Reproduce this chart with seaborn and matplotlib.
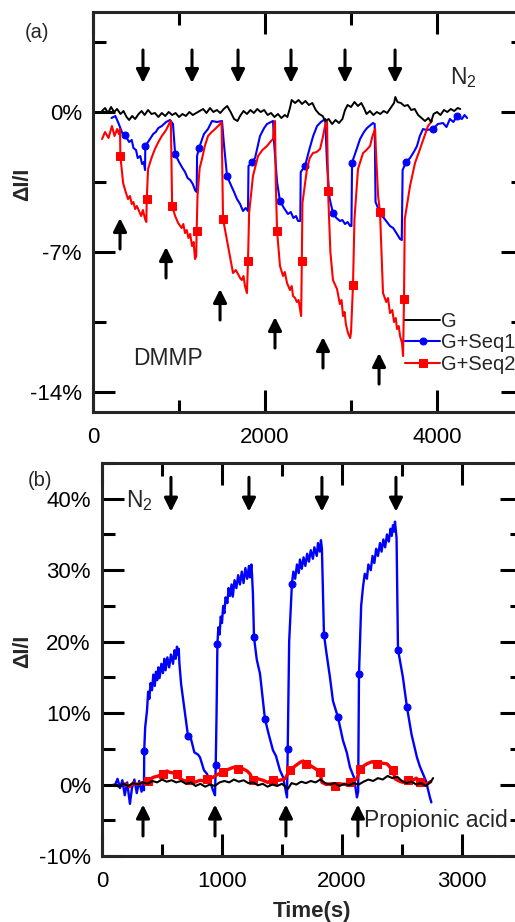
import matplotlib
matplotlib.use("Agg")
import matplotlib.pyplot as plt
from matplotlib.ticker import MultipleLocator, FuncFormatter
import seaborn as sns

# ---------------- panel (a): DMMP ----------------
t_g_a = [105, 140, 175, 210, 245, 280, 320, 355, 390, 420, 455, 490, 530, 565, 600, 640, 680, 720,
         760, 800, 840, 880, 920, 960, 1000, 1040, 1080, 1120, 1160, 1200, 1240, 1280, 1320, 1360,
         1400, 1440, 1480, 1520, 1560, 1600, 1640, 1680, 1710, 1750, 1790, 1830, 1870, 1910, 1950,
         1990, 2030, 2070, 2110, 2150, 2190, 2230, 2260, 2290, 2310, 2350, 2390, 2430, 2470, 2510,
         2550, 2590, 2630, 2670, 2700, 2740, 2780, 2820, 2860, 2900, 2930, 2960, 3000, 3040, 3080,
         3120, 3150, 3180, 3220, 3260, 3300, 3340, 3380, 3420, 3460, 3500, 3515, 3540, 3580, 3620,
         3660, 3700, 3740, 3780, 3820, 3860, 3900, 3930, 3960, 4000, 4040, 4080, 4120, 4160, 4200,
         4240, 4270]
v_g_a = [0.05, 0.2, -0.05, 0.25, 0.0, 0.15, -0.1, 0.05, -0.25, -0.4, -0.2, -0.35, -0.1, 0.05, -0.15,
         0.1, -0.1, -0.05, -0.25, -0.05, -0.2, 0.0, -0.15, -0.05, -0.25, -0.1, -0.2, 0.0, -0.15,
         -0.05, 0.05, 0.15, -0.05, 0.2, 0.0, 0.1, -0.05, 0.15, 0.3, 0.0, -0.35, -0.45, -0.2, 0.05,
         -0.1, 0.1, -0.05, 0.15, 0.0, 0.1, -0.15, -0.05, -0.25, -0.1, -0.3, -0.15, -0.25, 0.2, 0.6,
         0.45, 0.6, 0.4, 0.55, 0.35, 0.45, 0.1, -0.1, -0.2, -0.45, -0.35, -0.6, -0.4, -0.55, -0.35,
         0.1, 0.35, 0.25, 0.5, 0.3, 0.45, 0.2, -0.1, 0.05, -0.15, 0.0, -0.1, 0.05, -0.05, 0.2, 0.45,
         0.75, 0.5, 0.45, 0.3, 0.35, 0.1, 0.15, -0.15, -0.3, -0.45, -0.3, -0.5, -0.1, 0.0, -0.15,
         0.1, 0.0, 0.15, 0.05, 0.2, 0.15]

t_s1_a = [215, 260, 300, 340, 372, 420, 450, 470, 500, 520, 550, 570, 590, 605, 608, 640, 670, 700,
          730, 760, 800, 850, 895, 930, 955, 1000, 1040, 1070, 1100, 1130, 1160, 1186, 1205, 1210,
          1233, 1290, 1337, 1384, 1440, 1500, 1520, 1558, 1593, 1640, 1674, 1710, 1744, 1775, 1802,
          1808, 1850, 1884, 1942, 1990, 2023, 2093, 2105, 2140, 2174, 2220, 2267, 2300, 2330, 2360,
          2384, 2410, 2415, 2465, 2520, 2560, 2605, 2650, 2700, 2720, 2750, 2790, 2830, 2872, 2900,
          2930, 2960, 2990, 3005, 3012, 3030, 3070, 3105, 3150, 3186, 3256, 3275, 3285, 3337, 3400,
          3453, 3490, 3520, 3570, 3590, 3600, 3640, 3686, 3730, 3767, 3800, 3837, 3880, 3953, 4010,
          4070, 4110, 4150, 4190, 4233, 4290, 4320, 4350]
v_s1_a = [-0.3, -0.2, -0.6, -1.05, -1.15, -1.5, -1.4, -1.8, -1.9, -2.3, -2.2, -2.6, -2.5, -2.9, -1.7,
          -1.5, -1.3, -1.1, -1.0, -0.8, -0.7, -0.5, -0.4, -0.6, -2.1, -2.5, -2.8, -3.0, -3.3, -3.4,
          -3.6, -3.9, -4.0, -2.2, -1.8, -1.1, -0.85, -0.45, -0.5, -0.45, -1.5, -3.2, -3.55, -4.0,
          -4.35, -4.6, -4.95, -4.8, -4.95, -2.7, -2.5, -2.3, -1.2, -0.8, -0.6, -0.45, -1.5, -3.5,
          -4.45, -4.8, -5.1, -5.0, -5.3, -5.2, -5.45, -5.45, -3.0, -2.7, -1.8, -1.2, -0.7, -0.5,
          -0.35, -2.5, -4.3, -5.05, -5.3, -5.45, -5.4, -5.6, -5.5, -5.7, -5.7, -2.55, -2.3, -1.8,
          -1.35, -1.0, -0.8, -0.55, -0.6, -4.5, -5.05, -5.4, -5.7, -5.8, -6.0, -6.35, -6.4, -2.9,
          -2.5, -2.3, -2.0, -1.7, -1.2, -0.85, -0.9, -0.85, -0.6, -0.55, -0.75, -0.35, -0.5, -0.2,
          -0.35, -0.15, -0.3]
mk_s1_a = [372, 608, 955, 1233, 1558, 1850, 2174, 2465, 2790, 3012, 3337, 3640, 3953, 4233]

t_s2_a = [105, 140, 180, 220, 250, 280, 300, 314, 318, 350, 380, 407, 430, 450, 470, 490, 510, 530,
          560, 580, 605, 620, 625, 640, 680, 720, 760, 800, 850, 895, 905, 920, 955, 990, 1030,
          1050, 1070, 1090, 1110, 1130, 1151, 1170, 1186, 1200, 1205, 1215, 1240, 1267, 1300, 1337,
          1380, 1419, 1477, 1495, 1512, 1540, 1570, 1600, 1628, 1660, 1686, 1710, 1730, 1750, 1767,
          1790, 1802, 1815, 1860, 1919, 1970, 2023, 2060, 2093, 2110, 2116, 2125, 2140, 2174, 2210,
          2230, 2256, 2290, 2310, 2326, 2350, 2370, 2390, 2407, 2420, 2428, 2435, 2488, 2520, 2558,
          2600, 2640, 2670, 2698, 2721, 2733, 2760, 2790, 2837, 2870, 2890, 2907, 2925, 2940, 2965,
          2990, 3000, 3023, 3040, 3081, 3140, 3180, 3221, 3250, 3280, 3290, 3315, 3337, 3372, 3410,
          3430, 3453, 3480, 3500, 3520, 3535, 3555, 3570, 3593, 3605, 3616, 3625, 3686, 3744, 3790,
          3826, 3870, 3895, 3942]
v_s2_a = [-1.35, -1.0, -1.3, -0.7, -1.2, -0.85, -1.1, -0.85, -2.2, -3.55, -4.0, -4.35, -4.2, -4.6,
          -4.5, -4.85, -4.7, -4.9, -5.2, -4.9, -5.35, -5.5, -4.35, -2.85, -2.3, -1.85, -1.5, -1.2,
          -0.9, -0.5, -0.45, -4.7, -5.2, -5.55, -5.8, -5.6, -6.05, -5.9, -6.3, -6.1, -6.7, -6.5,
          -7.35, -7.2, -5.95, -4.2, -2.8, -2.35, -1.7, -1.2, -1.0, -0.85, -0.6, -0.5, -5.35, -6.0,
          -6.7, -7.4, -8.05, -7.9, -8.1, -8.3, -8.4, -8.2, -8.7, -9.05, -7.45, -5.05, -3.2, -2.2,
          -1.9, -1.7, -1.5, -1.35, -0.5, -0.45, -3.5, -5.95, -7.7, -8.2, -8.0, -8.55, -8.9, -8.7,
          -9.2, -9.3, -9.5, -9.4, -9.85, -10.2, -7.45, -4.55, -2.85, -2.3, -2.05, -2.0, -1.85,
          -1.3, -0.7, -0.45, -3.95, -7.0, -8.4, -8.85, -9.6, -9.4, -10.2, -10.0, -10.6, -11.05,
          -11.3, -11.0, -8.65, -5.35, -2.85, -2.05, -1.9, -1.7, -1.2, -0.85, -2.0, -4.2, -5.0, -9.05,
          -9.5, -9.3, -10.05, -9.9, -10.5, -10.3, -10.85, -10.7, -11.2, -11.55, -12.2, -9.35, -5.35,
          -3.7, -2.55, -2.0, -1.55, -1.0, -0.7, -0.45]
mk_s2_a = [318, 625, 920, 1205, 1512, 1802, 2140, 2428, 2733, 3023, 3337, 3616]

# arrows (a): N2 / DMMP switching times
dn_t_a = [581, 1151, 1686, 2302, 2930, 3512]
up_t_a = [314, 849, 1477, 2116, 2674, 3326]
up_tail_a = [-6.85, -8.3, -10.4, -11.8, -12.8, -13.6]

# ---------------- panel (b): propionic acid ----------------
t_g_b = [95, 140, 180, 220, 260, 300, 340, 380, 420, 460, 500, 540, 580, 620, 660, 700, 740, 780,
         820, 860, 900, 940, 980, 1020, 1060, 1100, 1140, 1180, 1220, 1260, 1300, 1340, 1380, 1420,
         1460, 1500, 1530, 1550, 1580, 1620, 1660, 1700, 1740, 1780, 1820, 1860, 1900, 1940, 1980,
         2020, 2060, 2100, 2140, 2180, 2220, 2260, 2300, 2340, 2380, 2420, 2460, 2500, 2540, 2580,
         2620, 2660, 2700, 2740, 2760]
v_g_b = [0.0, -0.3, 0.1, -0.2, 0.2, 0.0, 0.3, 0.1, 0.5, 0.3, 0.7, 0.4, 0.6, 0.3, 0.5, 0.1, 0.3,
         -0.2, 0.1, -0.3, 0.0, -0.2, 0.3, 0.5, 0.3, 0.7, 0.4, 0.6, 0.2, 0.3, -0.1, 0.1, -0.3, 0.0,
         -0.2, 0.1, -0.3, -0.6, 0.2, 0.0, 0.4, 0.2, 0.5, 0.3, 0.7, 0.2, 0.0, 0.2, -0.2, 0.1, -0.1,
         0.2, 0.0, 0.4, 0.7, 0.5, 0.9, 0.7, 1.2, 0.9, 1.1, 0.5, 0.2, 0.4, 0.0, 0.2, -0.2, 0.4, 0.9]

t_s1_b = [110, 130, 150, 170, 190, 210, 233, 250, 270, 290, 310, 330, 345, 350, 352, 360,
          375, 385, 395, 405, 417, 428, 440, 450, 460, 470, 480, 495, 508, 520, 530, 545, 560, 575,
          592, 605, 615, 625, 633, 640, 645,
          660, 680, 700, 717, 740, 770, 800, 817, 850, 875, 900, 925, 942, 948, 955,
          962, 970, 980, 990, 1000, 1010, 1020, 1030, 1045, 1055, 1067, 1080, 1090, 1105, 1120,
          1135, 1150, 1165, 1180, 1195, 1210, 1225, 1233, 1245, 1250, 1258,
          1267, 1290, 1317, 1340, 1358, 1390, 1425, 1450, 1483, 1510, 1542, 1548, 1560,
          1583, 1595, 1610, 1625, 1640, 1650, 1665, 1680, 1695, 1710, 1725, 1740, 1758, 1770, 1790,
          1800, 1815, 1825, 1833, 1840,
          1850, 1870, 1900, 1925, 1967, 2008, 2040, 2067, 2100, 2125, 2135, 2142,
          2160, 2175, 2190, 2208, 2220, 2240, 2255, 2270, 2285, 2300, 2317, 2330, 2345, 2360, 2375,
          2390, 2405, 2415, 2425, 2435, 2442, 2455,
          2467, 2508, 2542, 2580, 2625, 2650, 2675, 2700, 2733, 2745]
v_s1_b = [0.0, 0.8, -0.5, 0.6, -1.5, 0.3, -2.7, -0.5, 0.7, -1.2, 0.5, -1.0, 0.2, -0.8, 4.75, 8.0,
          10.3, 13.0, 12.0, 14.2, 13.2, 15.4, 13.8, 15.8, 14.6, 16.4, 14.9, 16.9, 15.6, 17.6, 16.0,
          17.8, 16.4, 18.2, 16.9, 18.8, 17.6, 19.3, 18.2, 19.0, 17.0,
          14.0, 11.5, 9.0, 6.8, 6.5, 4.5, 4.2, 3.8, 2.0, 1.5, 0.5, -0.8, -1.5, 2.7, 10.0,
          19.7, 22.0, 21.0, 23.5, 22.6, 25.0, 24.0, 26.2, 25.4, 27.5, 26.4, 28.0, 26.3, 28.6, 27.5,
          29.3, 28.0, 29.8, 28.2, 30.3, 28.8, 30.6, 29.0, 30.8, 29.5, 26.7,
          20.6, 17.5, 15.5, 12.0, 9.2, 7.0, 4.8, 4.0, 2.0, 1.0, -1.8, 5.0, 20.0,
          28.1, 29.8, 28.8, 30.8, 29.6, 31.5, 30.2, 31.8, 30.6, 32.3, 31.2, 32.8, 31.6, 33.2, 32.0,
          33.8, 32.6, 34.2, 33.0, 28.0,
          21.0, 18.5, 15.0, 11.7, 9.4, 6.2, 4.5, 2.4, 1.0, -1.8, -1.0, 15.5,
          25.0, 27.6, 29.5, 28.8, 30.8, 30.0, 32.0, 31.0, 33.0, 32.0, 33.8, 32.6, 34.3, 33.2, 35.0,
          34.0, 35.8, 34.8, 36.3, 35.4, 36.8, 34.5,
          18.9, 15.0, 10.8, 7.0, 3.8, 2.5, 1.5, 0.5, -1.8, -2.5]
mk_s1_b = [352, 717, 948, 962, 1267, 1358, 1548, 1583, 1850, 1967, 2142, 2467, 2542]

t_s2_b = [192, 230, 260, 300, 342, 380, 425, 470, 508, 540, 567, 600, 625, 650, 690, 733, 770, 817,
          850, 875, 925, 960, 1008, 1050, 1092, 1130, 1175, 1210, 1233, 1258, 1300, 1342, 1380,
          1425, 1483, 1525, 1567, 1610, 1650, 1675, 1700, 1733, 1780, 1817, 1833, 1870, 1900, 1940,
          1983, 2030, 2067, 2100, 2125, 2150, 2180, 2208, 2250, 2292, 2330, 2375, 2425, 2442, 2475,
          2508, 2550, 2592, 2620, 2650, 2708, 2740]
v_s2_b = [0.1, -0.3, 0.2, 0.0, 0.3, 0.5, 1.0, 1.2, 1.5, 1.9, 1.7, 1.6, 1.5, 0.8, 0.5, 0.6, 0.3, 0.6,
          0.5, 0.8, 1.0, 1.4, 1.7, 2.1, 2.4, 2.2, 2.2, 1.9, 1.5, 0.6, 0.8, 0.6, 0.3, 0.6, 0.6, 0.8,
          2.0, 2.6, 3.1, 3.3, 2.9, 2.7, 2.2, 1.7, 0.3, 0.0, 0.1, -0.2, 0.1, 0.0, 0.3, 0.6, 0.8, 2.2,
          2.6, 2.9, 3.2, 2.9, 3.0, 2.9, 2.0, 0.8, 0.5, 0.3, 0.6, 0.6, 0.9, 0.3, 0.1, 0.4]
mk_s2_b = [380, 508, 625, 733, 875, 1008, 1130, 1258, 1425, 1567, 1700, 1817, 1940, 2067, 2150,
           2292, 2425, 2550, 2650]

dn_t_b = [575, 1225, 1833, 2450]
up_t_b = [342, 942, 1533, 2133]

labels = ["G", "G+Seq1", "G+Seq2"]
colors = ["black", "blue", "red"]

sns.set_style("ticks")
plt.rcParams["font.family"] = ["Liberation Sans", "DejaVu Sans"]
plt.rcParams["mathtext.fontset"] = "custom"
plt.rcParams["mathtext.rm"] = "Liberation Sans"
plt.rcParams["axes.unicode_minus"] = False

fig = plt.figure(figsize=(5.15, 9.22), dpi=100)
ax1 = fig.add_axes([0.1806, 0.5531, 0.8350, 0.4339])
ax2 = fig.add_axes([0.198, 0.0716, 0.8155, 0.4262])


def idx(ts, marks):
    return [i for i, t in enumerate(ts) if t in marks]


# traces (a)
sns.lineplot(x=t_g_a, y=v_g_a, ax=ax1, color=colors[0], lw=1.4, sort=False, estimator=None,
             label=labels[0], zorder=4)
sns.lineplot(x=t_s1_a, y=v_s1_a, ax=ax1, color=colors[1], lw=1.5, sort=False, estimator=None,
             marker="o", ms=5, mec=colors[1], markevery=idx(t_s1_a, mk_s1_a), label=labels[1])
sns.lineplot(x=t_s2_a, y=v_s2_a, ax=ax1, color=colors[2], lw=1.5, sort=False, estimator=None,
             marker="s", ms=5.5, mec=colors[2], markevery=idx(t_s2_a, mk_s2_a), label=labels[2])

# traces (b)
sns.lineplot(x=t_g_b, y=v_g_b, ax=ax2, color=colors[0], lw=1.5, sort=False, estimator=None,
             legend=False, zorder=4)
sns.lineplot(x=t_s1_b, y=v_s1_b, ax=ax2, color=colors[1], lw=1.7, sort=False, estimator=None,
             marker="o", ms=5, mec=colors[1], markevery=idx(t_s1_b, mk_s1_b), legend=False)
sns.lineplot(x=t_s2_b, y=v_s2_b, ax=ax2, color=colors[2], lw=2.4, sort=False, estimator=None,
             marker="s", ms=5.5, mec=colors[2], markevery=idx(t_s2_b, mk_s2_b), legend=False)

arrow = dict(arrowstyle="-|>", color="black", lw=2.2, mutation_scale=20, shrinkA=0, shrinkB=0)
for t in dn_t_a:
    ax1.annotate("", xy=(t, 1.45), xytext=(t, 3.1), arrowprops=arrow)
for t, tail in zip(up_t_a, up_tail_a):
    ax1.annotate("", xy=(t, tail + 1.55), xytext=(t, tail), arrowprops=arrow)
for t in dn_t_b:
    ax2.annotate("", xy=(t, 38.2), xytext=(t, 43.0), arrowprops=arrow)
for t in up_t_b:
    ax2.annotate("", xy=(t, -2.8), xytext=(t, -7.2), arrowprops=arrow)

pct = FuncFormatter(lambda v, p: f"{v:.0f}%")

ax1.set_xlim(0, 5000)
ax1.set_ylim(-15, 5)
ax1.xaxis.set_major_locator(MultipleLocator(2000))
ax1.xaxis.set_minor_locator(MultipleLocator(1000))
ax1.yaxis.set_major_locator(MultipleLocator(7))
ax1.yaxis.set_minor_locator(MultipleLocator(3.5))
ax1.yaxis.set_major_formatter(pct)

ax2.set_xlim(0, 3500)
ax2.set_ylim(-10, 45)
ax2.xaxis.set_major_locator(MultipleLocator(1000))
ax2.xaxis.set_minor_locator(MultipleLocator(500))
ax2.yaxis.set_major_locator(MultipleLocator(10))
ax2.yaxis.set_minor_locator(MultipleLocator(5))
ax2.yaxis.set_major_formatter(pct)

for ax in (ax1, ax2):
    for s in ax.spines.values():
        s.set_linewidth(2.2)
    ax.tick_params(which="both", direction="in", top=True, right=True, width=2.2,
                   labelsize=16, colors="black")
    ax.tick_params(which="major", length=16, pad=8)
    ax.tick_params(which="minor", length=9)
    ax.tick_params(axis="x", which="major", pad=11)
    ax.set_ylabel("ΔI/I", fontsize=15.5, fontweight="bold")

ax1.set_xlabel("")
ax1.yaxis.set_label_coords(-0.14, 0.57)
ax2.yaxis.set_label_coords(-0.165, 0.52)
ax2.set_xlabel("Time(s)", fontsize=16, fontweight="bold", labelpad=6)

ax1.legend(loc="upper left", bbox_to_anchor=(0.7256, 0.25), frameon=False, fontsize=14.5,
           handlelength=1.75, handletextpad=0.05, labelspacing=0.12, borderpad=0,
           borderaxespad=0)

ax1.text(4150, 1.7, r"$\mathregular{N_2}$", fontsize=16.5, va="center", ha="left")
ax1.text(872, -12.3, "DMMP", fontsize=16.5, va="center", ha="center")
ax2.text(200, 39.7, r"$\mathregular{N_2}$", fontsize=16.5, va="center", ha="left")
ax2.text(2180, -5.0, "Propionic acid", fontsize=16.5, va="center", ha="left")
fig.text(37 / 515, 1 - 33 / 922, "(a)", fontsize=14.5, ha="center", va="center")
fig.text(40 / 515, 1 - 480 / 922, "(b)", fontsize=14.5, ha="center", va="center")

fig.savefig("out.png", dpi=100)
